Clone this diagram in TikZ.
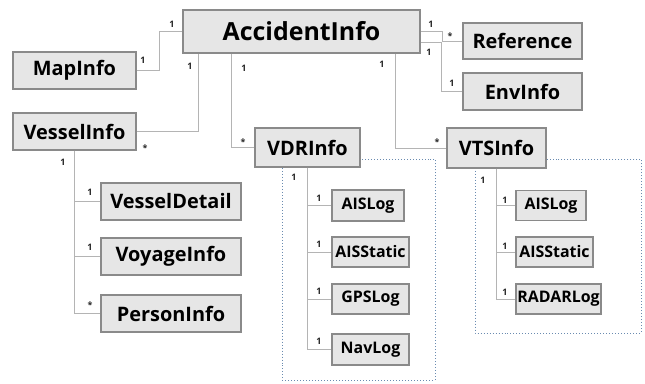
\documentclass[tikz,border=0pt]{standalone}
\usepackage{fontspec}
\setmainfont{Open Sans}
\begin{document}
\begin{tikzpicture}[x=1bp,y=-1bp,
  cls/.style={draw=boxline, fill=boxfill, line width=1.1bp, inner sep=0pt, font=\bfseries},
  big/.style={font=\fontsize{25}{28}\selectfont\bfseries},
  mid/.style={font=\fontsize{20}{24}\selectfont\bfseries},
  sml/.style={font=\fontsize{16}{19}\selectfont\bfseries},
  conn/.style={draw=connline, line width=1bp},
  mult/.style={font=\fontsize{9}{10}\selectfont\bfseries, inner sep=0pt, text=black!85},
  group/.style={draw=groupline, dotted, line width=1bp}
]
\definecolor{boxfill}{HTML}{E6E6E6}
\definecolor{boxline}{HTML}{8A8A8A}
\definecolor{connline}{HTML}{B4B4B4}
\definecolor{groupline}{HTML}{6A8BB0}
\useasboundingbox (0,0) rectangle (645,383);

% group frames
\draw[group] (282,159) rectangle (435,380);
\draw[group] (475,159) rectangle (641,333);

% classes
\node[cls,big,minimum width=237bp,minimum height=43bp] (acc) at (301.5,31.5) {AccidentInfo};
\node[cls,mid,minimum width=123bp,minimum height=37bp] (map) at (74.5,70.5) {MapInfo};
\node[cls,mid,minimum width=123bp,minimum height=37bp] (vessel) at (74.5,131.5) {VesselInfo};
\node[cls,mid,minimum width=119bp,minimum height=36bp] (ref) at (522.5,41) {Reference};
\node[cls,mid,minimum width=119bp,minimum height=37bp] (env) at (522.5,91.5) {EnvInfo};
\node[cls,mid,minimum width=105bp,minimum height=39bp] (vdr) at (307.5,147.5) {VDRInfo};
\node[cls,mid,minimum width=99bp,minimum height=40bp] (vts) at (496.5,148) {VTSInfo};
\node[cls,mid,minimum width=140bp,minimum height=37bp] (vdetail) at (171,201.5) {VesselDetail};
\node[cls,mid,minimum width=140bp,minimum height=37bp] (voyage) at (171,256.5) {VoyageInfo};
\node[cls,mid,minimum width=140bp,minimum height=37bp] (person) at (171,313.5) {PersonInfo};
\node[cls,sml,minimum width=72bp,minimum height=31bp] (aisA) at (368,205.5) {AISLog};
\node[cls,sml,minimum width=77bp,minimum height=30bp] (aisB) at (370.5,252) {AISStatic};
\node[cls,sml,minimum width=77bp,minimum height=30bp] (gps) at (370.5,299) {GPSLog};
\node[cls,sml,minimum width=77bp,minimum height=31bp] (nav) at (370.5,349.5) {NavLog};
\node[cls,sml,minimum width=70bp,minimum height=30bp] (aisC) at (551,205.5) {AISLog};
\node[cls,sml,minimum width=77bp,minimum height=30bp] (aisD) at (554.5,252) {AISStatic};
\node[cls,sml,minimum width=85bp,minimum height=30bp] (radar) at (558.5,299) {RADARLog};

% connectors
\draw[conn] (map.east) -- ++(23,0) |- (acc.west);
\draw[conn] (vessel.east) -| ([xshift=16bp]acc.south west);
\draw[conn] ([xshift=49bp]acc.south west) |- (vdr.west);
\draw[conn] ([xshift=-25bp]acc.south east) |- (vts.west);
\draw[conn] (acc.east) -- ++(22,0) |- (ref.west);
\draw[conn] ([yshift=-11bp]acc.east) -- ++(21,0) |- (env.west);
\draw[conn] (vessel.south) |- (vdetail.west);
\draw[conn] (vessel.south) |- (voyage.west);
\draw[conn] (vessel.south) |- (person.west);
\draw[conn] (vdr.south) |- (aisA.west);
\draw[conn] (vdr.south) |- (aisB.west);
\draw[conn] (vdr.south) |- (gps.west);
\draw[conn] (vdr.south) |- (nav.west);
\draw[conn] (vts.south) |- (aisC.west);
\draw[conn] (vts.south) |- (aisD.west);
\draw[conn] (vts.south) |- (radar.west);

% multiplicities
\node[mult] (m1) at (143,60) {1};
\node[mult] (m2) at (172,24) {1};
\node[mult] (m3) at (190,66) {1};
\node[mult] (m4) at (145,148) {*};
\node[mult] (m5) at (244,68) {1};
\node[mult] (m6) at (243,142) {*};
\node[mult] (m7) at (382,64) {1};
\node[mult] (m8) at (437,142) {*};
\node[mult] (m9) at (431,24) {1};
\node[mult] (m10) at (450,36) {*};
\node[mult] (m11) at (429,52) {1};
\node[mult] (m12) at (452,83) {1};
\node[mult] (m13) at (63,162) {1};
\node[mult] (m14) at (90,192) {1};
\node[mult] (m15) at (90,247) {1};
\node[mult] (m16) at (90,305) {*};
\node[mult] (m17) at (294,177) {1};
\node[mult] (m18) at (319,198) {1};
\node[mult] (m19) at (319,244) {1};
\node[mult] (m20) at (319,291) {1};
\node[mult] (m21) at (319,341) {1};
\node[mult] (m22) at (483,180) {1};
\node[mult] (m23) at (505,200) {1};
\node[mult] (m24) at (505,246) {1};
\node[mult] (m25) at (505,292) {1};
\end{tikzpicture}
\end{document}
